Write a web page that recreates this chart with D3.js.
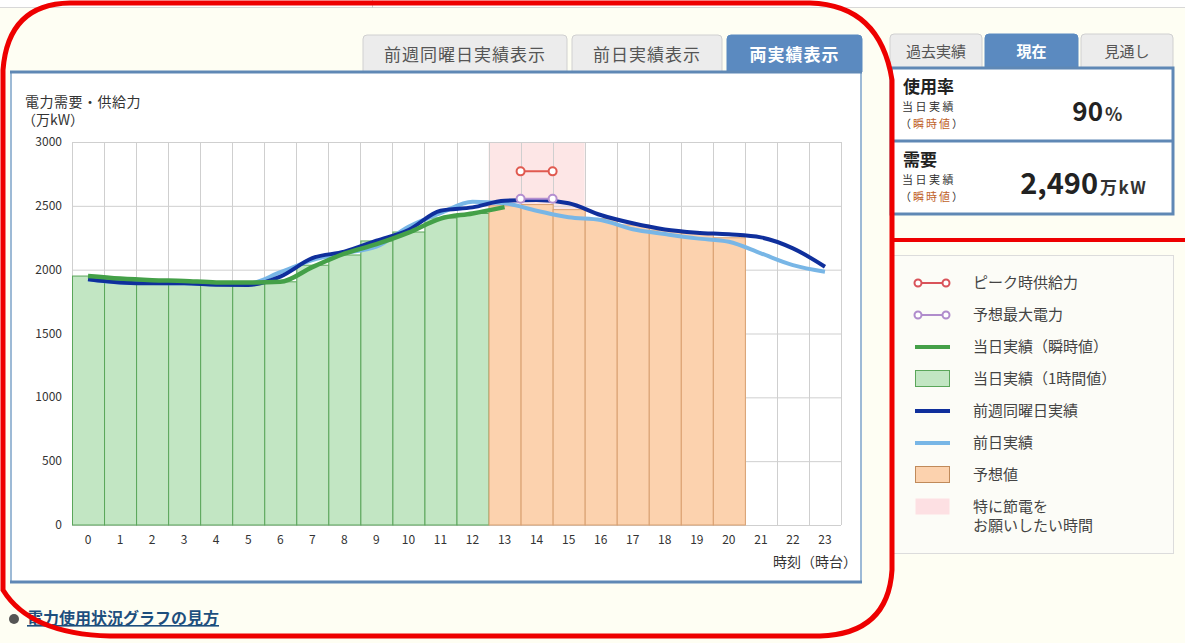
<!DOCTYPE html>
<html>
<head>
<meta charset="utf-8">
<script src="https://cdn.jsdelivr.net/npm/d3@7"></script>
<style>
  body { margin: 0; background: #fefef3; }
  svg { display: block; font-family: "Noto Sans CJK JP", "Noto Sans", sans-serif; }
</style>
</head>
<body>
<div id="chart"></div>
<script>
// hours of the day
let hours = d3.range(0, 24)
// 当日実績 (1時間値) bars, hours 0-12
let actualHourly = [1950, 1915, 1910, 1900, 1890, 1895, 1905, 2035, 2115, 2225, 2295, 2405, 2440]
// 予想値 bars, hours 13-20
let forecastHours = [13, 14, 15, 16, 17, 18, 19, 20]
let forecast = [2500, 2510, 2470, 2400, 2350, 2310, 2285, 2250]
// 当日実績 (瞬時値) line, hours 0-13
let actualInstant = [1950, 1930, 1918, 1912, 1900, 1900, 1905, 2020, 2125, 2200, 2290, 2400, 2440, 2490]
// 前週同曜日実績
let lastWeek = [1925, 1900, 1893, 1893, 1882, 1880, 1945, 2090, 2141, 2227, 2311, 2462, 2488, 2540,
    2545, 2520, 2428, 2363, 2315, 2290, 2277, 2253, 2167, 2023]
// 前日実績
let yesterday = [1925, 1900, 1895, 1893, 1885, 1890, 1980, 2075, 2130, 2180, 2336, 2443, 2532, 2520,
    2462, 2410, 2389, 2316, 2279, 2245, 2219, 2128, 2036, 1984]
// peak supply / forecast max (hour 14 band edges)
let peakSupply = [[14, 2770], [15, 2770]]
let peakForecast = [[14, 2555], [15, 2555]]
// 特に節電をお願いしたい時間
let savingHours = [13, 16]
let yTicks = [0, 500, 1000, 1500, 2000, 2500, 3000]

let svg = d3.select('#chart').append('svg')
    .attr('width', 1185)
    .attr('height', 643)

// top strip
svg.append('rect').attr('x', 0).attr('y', 0).attr('width', 1185).attr('height', 7).attr('fill', '#fff')
svg.append('line').attr('x1', 0).attr('x2', 1185).attr('y1', 7.5).attr('y2', 7.5).attr('stroke', '#d8d8d8')
svg.append('line').attr('x1', 372.5).attr('x2', 372.5).attr('y1', 0).attr('y2', 8).attr('stroke', '#ccc')

// ---- left tabs ----
let tabs = [
    {label: '前週同曜日実績表示', x: 363, w: 204, active: false},
    {label: '前日実績表示', x: 572, w: 150, active: false},
    {label: '両実績表示', x: 727, w: 135, active: true}
]
tabs.forEach(function (t) {
    svg.append('path')
        .attr('d', `M${t.x},72 L${t.x},${39} Q${t.x},35 ${t.x + 4},35 L${t.x + t.w - 4},35 Q${t.x + t.w},35 ${t.x + t.w},39 L${t.x + t.w},72`)
        .attr('fill', t.active ? '#5b8ac0' : '#ececec')
        .attr('stroke', t.active ? '#5b8ac0' : '#d0d0d0')
    svg.append('text')
        .attr('x', t.x + t.w / 2).attr('y', 61)
        .attr('text-anchor', 'middle')
        .attr('font-size', 17)
        .attr('letter-spacing', 1)
        .attr('font-weight', t.active ? 'bold' : 'normal')
        .attr('fill', t.active ? '#fff' : '#555')
        .text(t.label)
})

// chart panel
svg.append('rect').attr('x', 11).attr('y', 72).attr('width', 850).attr('height', 510)
    .attr('fill', '#fff').attr('stroke', '#9dbad6').attr('stroke-width', 2)
svg.append('line').attr('x1', 10).attr('x2', 862).attr('y1', 72).attr('y2', 72)
    .attr('stroke', '#5f88b5').attr('stroke-width', 3)
svg.append('line').attr('x1', 10).attr('x2', 862).attr('y1', 582).attr('y2', 582)
    .attr('stroke', '#5f88b5').attr('stroke-width', 3)

// scales
let x = d3.scaleBand().domain(hours).range([72, 841]).padding(0)
let y = d3.scaleLinear().domain([0, 3000]).range([525, 142])
let cx = function (h) { return x(h) + x.bandwidth() / 2 }

// saving band
svg.append('rect')
    .attr('x', x(savingHours[0])).attr('y', y(3000))
    .attr('width', x(savingHours[1] - 1) + x.bandwidth() - x(savingHours[0]))
    .attr('height', y(0) - y(3000))
    .attr('fill', '#fde6e6')

// grid
svg.append('g').selectAll('line').data(yTicks).enter().append('line')
    .attr('x1', 72).attr('x2', 841)
    .attr('y1', d => y(d) + 0.5).attr('y2', d => y(d) + 0.5)
    .attr('stroke', '#cfcfcf')
svg.append('g').selectAll('line').data(d3.range(0, 25)).enter().append('line')
    .attr('x1', d => Math.round(72 + d * x.bandwidth()) + 0.5)
    .attr('x2', d => Math.round(72 + d * x.bandwidth()) + 0.5)
    .attr('y1', y(3000)).attr('y2', y(0))
    .attr('stroke', '#cfcfcf')

// bars
svg.append('g').selectAll('rect').data(actualHourly).enter().append('rect')
    .attr('x', (d, i) => x(i) + 0.5)
    .attr('y', d => y(d))
    .attr('width', x.bandwidth())
    .attr('height', d => y(0) - y(d))
    .attr('fill', '#c2e6c3')
    .attr('stroke', '#5aa65a')
svg.append('g').selectAll('rect').data(forecast).enter().append('rect')
    .attr('x', (d, i) => x(forecastHours[i]) + 0.5)
    .attr('y', d => y(d))
    .attr('width', x.bandwidth())
    .attr('height', d => y(0) - y(d))
    .attr('fill', '#fcd2ae')
    .attr('stroke', '#d9a070')

// lines
let line = d3.line()
    .x((d, i) => cx(i))
    .y(d => y(d))
    .curve(d3.curveMonotoneX)
svg.append('path').datum(yesterday).attr('d', line)
    .attr('fill', 'none').attr('stroke', '#78b6e6').attr('stroke-width', 4)
svg.append('path').datum(lastWeek).attr('d', line)
    .attr('fill', 'none').attr('stroke', '#0f2f9c').attr('stroke-width', 4)
svg.append('path').datum(actualInstant).attr('d', line)
    .attr('fill', 'none').attr('stroke', '#44a048').attr('stroke-width', 4.5)

// peak markers
function peak(data, color) {
    let px = d => 72 + d[0] * x.bandwidth()
    svg.append('line')
        .attr('x1', px(data[0])).attr('x2', px(data[1]))
        .attr('y1', y(data[0][1])).attr('y2', y(data[1][1]))
        .attr('stroke', color).attr('stroke-width', 2)
    svg.append('g').selectAll('circle').data(data).enter().append('circle')
        .attr('cx', px).attr('cy', d => y(d[1])).attr('r', 4)
        .attr('fill', '#fff').attr('stroke', color).attr('stroke-width', 2)
}
peak(peakSupply, '#e05a50')
peak(peakForecast, '#b58fd0')

// axis labels
svg.append('g').selectAll('text').data(yTicks).enter().append('text')
    .attr('x', 62).attr('y', d => y(d) + 4)
    .attr('text-anchor', 'end').attr('font-size', 12).attr('fill', '#333')
    .text(d => d)
svg.append('g').selectAll('text').data(hours).enter().append('text')
    .attr('x', cx).attr('y', 544)
    .attr('text-anchor', 'middle').attr('font-size', 12).attr('fill', '#333')
    .text(d => d)
svg.append('text').attr('x', 857).attr('y', 567).attr('text-anchor', 'end')
    .attr('font-size', 14).attr('fill', '#333').text('時刻（時台）')
svg.append('text').attr('x', 25).attr('y', 107).attr('font-size', 14).attr('letter-spacing', 0.5)
    .attr('fill', '#333').text('電力需要・供給力')
svg.append('text').attr('x', 22).attr('y', 125).attr('font-size', 14).attr('fill', '#333').text('（万kW）')

// ---- right panel tabs ----
let rtabs = [
    {label: '過去実績', x: 890, w: 92, active: false},
    {label: '現在', x: 985, w: 93, active: true},
    {label: '見通し', x: 1081, w: 92, active: false}
]
rtabs.forEach(function (t) {
    svg.append('path')
        .attr('d', `M${t.x},68 L${t.x},38 Q${t.x},34 ${t.x + 4},34 L${t.x + t.w - 4},34 Q${t.x + t.w},34 ${t.x + t.w},38 L${t.x + t.w},68`)
        .attr('fill', t.active ? '#5b8ac0' : '#ececec')
        .attr('stroke', t.active ? '#5b8ac0' : '#d0d0d0')
    svg.append('text')
        .attr('x', t.x + t.w / 2).attr('y', 57)
        .attr('text-anchor', 'middle').attr('font-size', 15)
        .attr('font-weight', t.active ? 'bold' : 'normal')
        .attr('fill', t.active ? '#fff' : '#555')
        .text(t.label)
})
let cells = [
    {title: '使用率', y: 68, value: '90', unit: '%', vx: 1103},
    {title: '需要', y: 141, value: '2,490', unit: '万kW', vx: 1098}
]
svg.append('rect').attr('x', 891).attr('y', 68).attr('width', 282).attr('height', 146)
    .attr('fill', '#fff').attr('stroke', '#5f88b5').attr('stroke-width', 3)
svg.append('line').attr('x1', 891).attr('x2', 1173).attr('y1', 141).attr('y2', 141)
    .attr('stroke', '#5f88b5').attr('stroke-width', 3)
cells.forEach(function (c) {
    svg.append('text').attr('x', 903).attr('y', c.y + 25).attr('font-size', 17)
        .attr('font-weight', 'bold').attr('fill', '#222').text(c.title)
    svg.append('text').attr('x', 902).attr('y', c.y + 43).attr('font-size', 11)
        .attr('letter-spacing', 2.5).attr('fill', '#333').text('当日実績')
    let t = svg.append('text').attr('x', 900).attr('y', c.y + 60).attr('font-size', 11)
        .attr('letter-spacing', 2).attr('fill', '#333')
    t.append('tspan').text('（')
    t.append('tspan').attr('fill', '#c0622a').text('瞬時値')
    t.append('tspan').text('）')
    svg.append('text').attr('x', c.vx).attr('y', c.y + 53).attr('text-anchor', 'end')
        .attr('font-size', c.unit === '%' ? 26 : 29).attr('font-weight', 'bold').attr('fill', '#222')
        .text(c.value)
    svg.append('text').attr('x', c.vx + 2).attr('y', c.y + 53)
        .attr('font-size', c.unit === '%' ? 18 : 17).attr('font-weight', 'bold')
        .attr('letter-spacing', c.unit === '%' ? 0 : 1.5).attr('fill', '#333')
        .text(c.unit)
})

// ---- legend ----
svg.append('rect').attr('x', 893.5).attr('y', 255.5).attr('width', 280).attr('height', 298)
    .attr('fill', '#fcfcf7').attr('stroke', '#dcdcdc')
let legend = [
    {label: 'ピーク時供給力', type: 'peak', color: '#d9535a'},
    {label: '予想最大電力', type: 'peak', color: '#b08ccc'},
    {label: '当日実績（瞬時値）', type: 'line', color: '#44a048'},
    {label: '当日実績（1時間値）', type: 'box', color: '#c2e6c3', stroke: '#5aa65a'},
    {label: '前週同曜日実績', type: 'line', color: '#0f2f9c'},
    {label: '前日実績', type: 'line', color: '#78b6e6'},
    {label: '予想値', type: 'box', color: '#fcd2ae', stroke: '#c08a5a'},
    {label: '特に節電を', label2: 'お願いしたい時間', type: 'box', color: '#fde0e3', stroke: 'none'}
]
legend.forEach(function (l, i) {
    let ly = 283 + i * 32
    if (l.type === 'peak') {
        svg.append('line').attr('x1', 918).attr('x2', 946).attr('y1', ly).attr('y2', ly)
            .attr('stroke', l.color).attr('stroke-width', 2)
        ;[918, 946].forEach(function (px) {
            svg.append('circle').attr('cx', px).attr('cy', ly).attr('r', 3.5)
                .attr('fill', '#fff').attr('stroke', l.color).attr('stroke-width', 2)
        })
    } else if (l.type === 'line') {
        svg.append('line').attr('x1', 915).attr('x2', 950).attr('y1', ly).attr('y2', ly)
            .attr('stroke', l.color).attr('stroke-width', 4)
    } else {
        svg.append('rect').attr('x', 915.5).attr('y', ly - 8.5).attr('width', 34).attr('height', 16)
            .attr('fill', l.color).attr('stroke', l.stroke)
    }
    svg.append('text').attr('x', 973).attr('y', ly + 5).attr('font-size', 15).attr('fill', '#444').text(l.label)
    if (l.label2) {
        svg.append('text').attr('x', 973).attr('y', ly + 24).attr('font-size', 15).attr('fill', '#444').text(l.label2)
    }
})

// bottom link
svg.append('circle').attr('cx', 14).attr('cy', 619).attr('r', 5).attr('fill', '#555')
svg.append('text').attr('x', 27).attr('y', 624).attr('font-size', 16).attr('font-weight', 'bold')
    .attr('fill', '#1d4f7e').attr('text-decoration', 'underline').text('電力使用状況グラフの見方')

// red annotation marks
svg.append('path')
    .attr('d', 'M3,590 L3,70 Q8,4 70,3 L810,3 Q880,5 892,80 L892,570 Q888,634 820,636 L110,636 Q30,634 3,590 Z')
    .attr('fill', 'none').attr('stroke', '#ee0000').attr('stroke-width', 5)
svg.append('line').attr('x1', 892).attr('x2', 1185).attr('y1', 240).attr('y2', 240)
    .attr('stroke', '#ee0000').attr('stroke-width', 4)
</script>
</body>
</html>
